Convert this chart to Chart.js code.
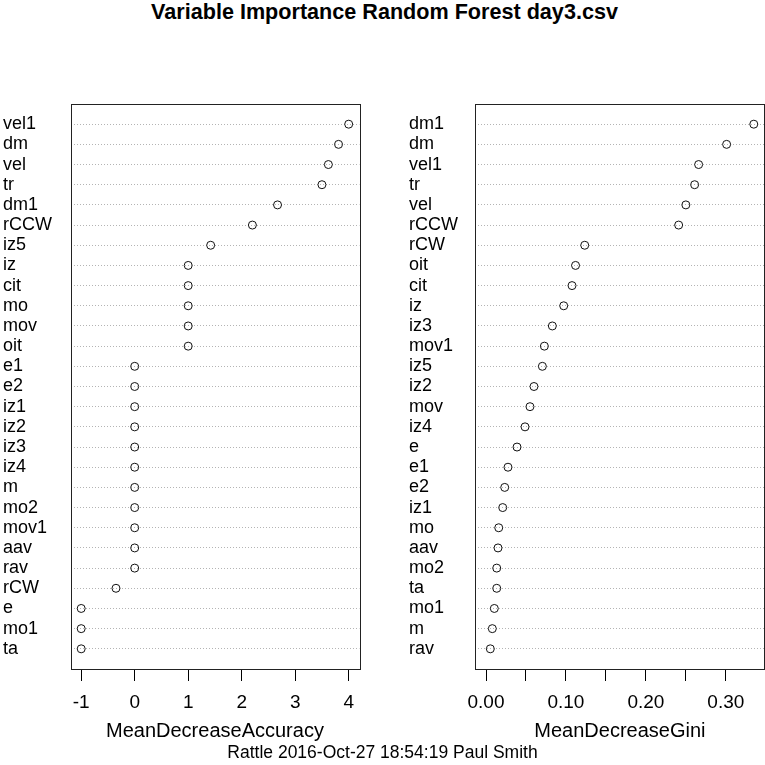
<!DOCTYPE html>
<html>
<head>
<meta charset="utf-8">
<script src="https://cdn.jsdelivr.net/npm/chart.js@4.4.1/dist/chart.umd.min.js"></script>
<style>
  body { margin: 0; background: #fff; }
  #wrap { position: relative; width: 765px; height: 765px; font-family: "Liberation Sans", Arial, sans-serif; color: #000; }
  canvas { position: absolute; top: 0; }
  #title { position: absolute; top: 1px; left: 2px; width: 765px; text-align: center; font-weight: bold; font-size: 21.6px; line-height: 22px; }
  #footer { position: absolute; top: 742px; left: 0; width: 765px; text-align: center; font-size: 17.5px; line-height: 20px; }
</style>
</head>
<body>
<div id="wrap">
  <div id="title">Variable Importance Random Forest day3.csv</div>
  <canvas id="accChart" width="383" height="765" style="left:0"></canvas>
  <canvas id="giniChart" width="382" height="765" style="left:383px"></canvas>
  <div id="footer">Rattle 2016-Oct-27 18:54:19 Paul Smith</div>
</div>
<script>
// rows listed top to bottom, as in the plot
const accLabels = ["vel1", "dm", "vel", "tr", "dm1", "rCCW", "iz5", "iz", "cit", "mo", "mov", "oit",
  "e1", "e2", "iz1", "iz2", "iz3", "iz4", "m", "mo2", "mov1", "aav", "rav", "rCW", "e", "mo1", "ta"];
const accValues = [4.0, 3.81, 3.62, 3.50, 2.67, 2.20, 1.42, 1, 1, 1, 1, 1,
  0, 0, 0, 0, 0, 0, 0, 0, 0, 0, 0, -0.35, -1, -1, -1];
const accTicks = [-1, 0, 1, 2, 3, 4];

const giniLabels = ["dm1", "dm", "vel1", "tr", "vel", "rCCW", "rCW", "oit", "cit", "iz", "iz3", "mov1",
  "iz5", "iz2", "mov", "iz4", "e", "e1", "e2", "iz1", "mo", "aav", "mo2", "ta", "mo1", "m", "rav"];
const giniValues = [0.335, 0.301, 0.266, 0.261, 0.250, 0.241, 0.1235, 0.112, 0.1076, 0.0972, 0.083, 0.073,
  0.0705, 0.060, 0.055, 0.0488, 0.0388, 0.0275, 0.0234, 0.0209, 0.0159, 0.015, 0.0134, 0.0134, 0.0104, 0.0079, 0.0054];
const giniTicks = [0, 0.05, 0.10, 0.15, 0.20, 0.25, 0.30];
const giniTickLabels = ["0.00", "", "0.10", "", "0.20", "", "0.30"];

Chart.defaults.font.family = '"Liberation Sans", Arial, sans-serif';
Chart.defaults.color = "#000";

const boxPlugin = {
  id: "box",
  afterDraw(chart) {
    const a = chart.chartArea;
    const ctx = chart.ctx;
    ctx.save();
    ctx.strokeStyle = "#222";
    ctx.lineWidth = 1;
    ctx.strokeRect(Math.round(a.left) + 0.5, Math.round(a.top) + 0.5,
      Math.round(a.right - a.left), Math.round(a.bottom - a.top));
    ctx.restore();
  }
};

function createDotChart(id, labels, values, ticks, tickText, xmin, title, pad, yWidth) {
  const n = labels.length;
  let lo = Math.min(xmin, ...values);
  let hi = Math.max(...values);
  const ext = (hi - lo) * 0.04;
  const points = values.map((v, i) => ({ x: v, y: n - i }));
  return new Chart(document.getElementById(id), {
    type: "scatter",
    data: {
      datasets: [{
        data: points,
        pointStyle: "circle",
        pointRadius: 4,
        pointHoverRadius: 4,
        pointBackgroundColor: "rgba(0,0,0,0)",
        pointBorderColor: "#111",
        pointBorderWidth: 1
      }]
    },
    options: {
      responsive: false,
      animation: false,
      events: [],
      layout: { padding: pad, autoPadding: false },
      plugins: { legend: { display: false }, tooltip: { enabled: false } },
      scales: {
        x: {
          type: "linear",
          min: lo - ext,
          max: hi + ext,
          afterBuildTicks: s => { s.ticks = ticks.map(v => ({ value: v })); },
          afterFit: s => { s.height = 96; s.paddingLeft = 0; s.paddingRight = 0; },
          ticks: {
            autoSkip: false,
            maxRotation: 0,
            padding: 10,
            font: { size: 19 },
            callback: (v, i) => tickText(v, i)
          },
          grid: { drawOnChartArea: false, drawTicks: true, tickLength: 12, color: "#000", tickColor: "#000" },
          border: { display: false },
          title: { display: true, text: title, font: { size: 20 }, padding: { top: 0, bottom: 22 } }
        },
        y: {
          type: "linear",
          min: 0,
          max: n + 1,
          afterBuildTicks: s => { s.ticks = labels.map((_, i) => ({ value: i + 1 })); },
          afterFit: s => { s.width = yWidth; s.paddingTop = 0; s.paddingBottom = 0; },
          ticks: {
            autoSkip: false,
            crossAlign: "far",
            padding: 0,
            font: { size: 18 },
            callback: v => labels[n - v]
          },
          grid: { drawTicks: false, color: "#b4b4b4", lineWidth: 1 },
          border: { display: false, dash: [1, 2] }
        }
      }
    },
    plugins: [boxPlugin]
  });
}

createDotChart("accChart", accLabels, accValues, accTicks, v => String(v), -1,
  "MeanDecreaseAccuracy", { left: 3, right: 23.6, top: 104, bottom: 0 }, 67.5);
createDotChart("giniChart", giniLabels, giniValues, giniTicks, (v, i) => giniTickLabels[i], 0,
  "MeanDecreaseGini", { left: 26, right: 0.5, top: 104, bottom: 0 }, 66.3);
</script>
</body>
</html>
